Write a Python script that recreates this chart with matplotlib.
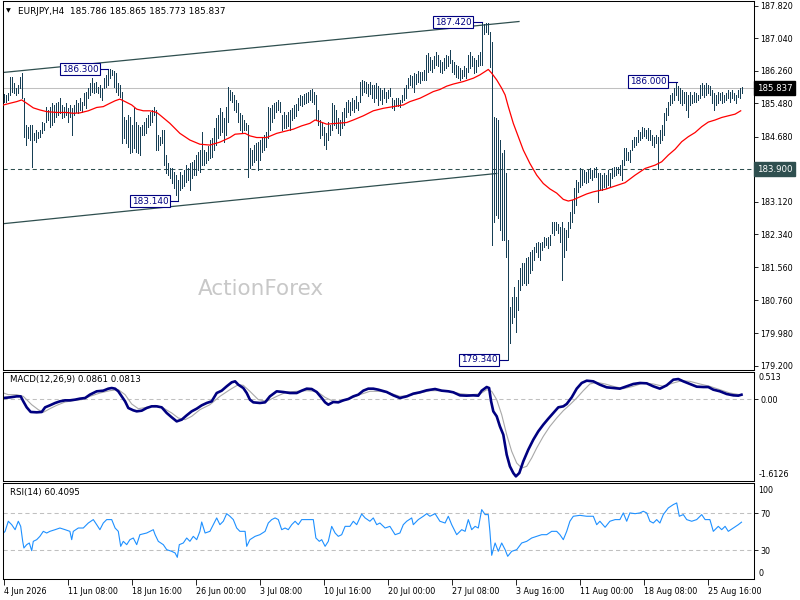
import matplotlib
matplotlib.use("Agg")
import matplotlib.pyplot as plt
import matplotlib.transforms as mtransforms

plt.rcParams['font.family'] = 'DejaVu Sans'

symbol = "EURJPY,H4"
last_ohlc = [185.786, 185.865, 185.773, 185.837]

# H4 bars, high / low
highs = [
    185.70, 185.68, 185.73, 186.11, 186.11, 185.97, 185.85, 185.92, 186.11, 186.21,
    185.61, 184.96, 184.91, 184.96, 184.96, 184.77, 184.84, 184.79, 184.84, 185.03,
    185.01, 185.39, 185.32, 185.39, 185.49, 185.44, 185.49, 185.51, 185.61, 185.44,
    185.39, 185.49, 185.37, 185.44, 185.37, 185.44, 185.56, 185.49, 185.61, 185.51,
    185.73, 185.75, 185.85, 185.97, 186.08, 185.97, 185.99, 185.87, 185.92, 185.85,
    186.08, 186.16, 186.28, 186.30, 186.27, 186.25, 186.21, 185.97, 185.92, 185.75,
    185.15, 185.08, 185.20, 185.15, 184.96, 185.37, 185.03, 184.96, 184.91, 184.96,
    185.03, 185.13, 185.20, 185.27, 185.32, 185.39, 185.32, 184.72, 184.67, 184.84,
    184.84, 184.24, 184.05, 183.93, 183.93, 183.84, 183.76, 183.64, 183.84, 183.76,
    183.88, 184.00, 183.93, 184.05, 184.07, 184.12, 184.24, 184.31, 184.36, 184.79,
    184.36, 184.31, 184.46, 184.60, 184.65, 184.89, 185.13, 185.20, 185.37, 185.27,
    185.13, 185.39, 185.87, 185.80, 185.75, 185.68, 185.56, 185.49, 185.25, 185.20,
    185.08, 185.01, 184.96, 184.41, 184.36, 184.48, 184.53, 184.55, 184.60, 184.65,
    184.72, 184.79, 185.39, 185.37, 185.44, 185.49, 185.51, 185.56, 185.51, 185.20,
    185.27, 185.20, 185.27, 185.32, 185.37, 185.44, 185.46, 185.61, 185.68, 185.65,
    185.70, 185.73, 185.75, 185.80, 185.82, 185.75, 185.68, 185.32, 185.08, 185.03,
    184.91, 184.77, 185.03, 184.96, 185.49, 185.44, 185.32, 185.13, 185.08, 185.27,
    185.37, 185.51, 185.56, 185.51, 185.61, 185.56, 185.65, 185.51, 185.99, 186.04,
    186.01, 185.99, 185.94, 185.99, 185.92, 185.92, 185.97, 185.89, 185.85, 185.80,
    185.85, 185.75, 185.80, 185.85, 185.61, 185.56, 185.61, 185.61, 185.56, 185.68,
    185.85, 185.92, 186.08, 186.16, 186.13, 186.21, 186.18, 186.25, 186.23, 186.23,
    186.28, 186.64, 186.68, 186.59, 186.52, 186.61, 186.71, 186.64, 186.52, 186.47,
    186.56, 186.64, 186.61, 186.76, 186.52, 186.47, 186.40, 186.37, 186.33, 186.28,
    186.37, 186.33, 186.64, 186.71, 186.61, 186.56, 186.52, 186.64, 186.71, 187.42,
    187.38, 187.40, 187.40, 187.19, 186.95, 185.15, 185.13, 185.08, 184.60, 184.29,
    184.36, 183.81, 182.21, 180.60, 180.84, 181.08, 180.84, 181.25, 181.54, 181.66,
    181.66, 181.78, 181.80, 181.92, 181.97, 182.04, 182.14, 182.16, 182.14, 182.16,
    182.28, 182.26, 182.28, 182.33, 182.64, 182.64, 182.64, 182.59, 182.52, 182.64,
    182.50, 182.45, 182.64, 182.88, 183.17, 183.45, 183.64, 183.60, 183.93, 183.88,
    183.88, 183.84, 183.88, 183.93, 183.88, 183.93, 183.96, 183.81, 183.81, 183.76,
    183.81, 183.76, 183.88, 183.81, 183.93, 183.96, 183.96, 183.96, 184.00, 184.12,
    184.41, 184.41, 184.31, 184.36, 184.60, 184.67, 184.67, 184.84, 184.79, 184.91,
    184.89, 184.84, 184.89, 184.84, 184.72, 184.67, 184.72, 184.67, 184.84, 184.96,
    185.25, 185.37, 185.51, 185.68, 185.73, 185.85, 186.00, 185.89, 185.85, 185.80,
    185.75, 185.75, 185.68, 185.75, 185.68, 185.75, 185.73, 185.68, 185.92, 185.97,
    185.92, 185.97, 185.92, 185.89, 185.80, 185.73, 185.68, 185.75, 185.73, 185.75,
    185.68, 185.73, 185.80, 185.75, 185.80, 185.73, 185.68, 185.80, 185.85, 185.87,
]
lows = [
    185.51, 185.51, 185.56, 185.68, 185.75, 185.73, 185.68, 185.73, 185.85, 185.61,
    184.67, 184.48, 184.65, 184.60, 183.96, 184.60, 184.55, 184.65, 184.67, 184.77,
    184.84, 185.03, 185.08, 184.91, 184.96, 185.03, 185.15, 185.20, 185.25, 185.13,
    185.15, 185.20, 185.03, 185.15, 184.72, 185.20, 185.27, 185.25, 185.32, 185.27,
    185.44, 185.37, 185.61, 185.68, 185.75, 185.73, 185.75, 185.73, 185.63, 185.56,
    185.85, 185.87, 185.92, 186.08, 186.16, 185.87, 185.75, 185.68, 185.63, 184.53,
    184.65, 184.53, 184.43, 184.29, 184.31, 184.41, 184.31, 184.29, 184.24, 184.72,
    184.72, 184.77, 184.91, 184.96, 185.03, 185.20, 184.36, 184.36, 184.48, 184.53,
    184.00, 183.81, 183.76, 183.69, 183.57, 183.45, 183.29, 183.14, 183.40, 183.45,
    183.50, 183.60, 183.64, 183.40, 183.69, 183.76, 183.76, 183.88, 183.84, 184.00,
    184.00, 184.05, 184.12, 184.17, 184.19, 184.36, 184.48, 184.65, 184.72, 184.79,
    184.55, 184.72, 185.03, 185.56, 185.51, 185.32, 185.27, 185.03, 184.84, 184.79,
    184.84, 184.84, 183.72, 183.93, 184.00, 184.07, 184.12, 183.88, 184.12, 184.31,
    184.36, 184.43, 184.65, 184.84, 185.03, 185.13, 185.27, 185.32, 185.27, 184.84,
    184.89, 184.89, 184.94, 184.84, 185.08, 185.13, 185.18, 185.32, 185.44, 185.41,
    185.46, 185.49, 185.51, 185.56, 185.51, 185.46, 185.08, 184.96, 184.65, 184.72,
    184.48, 184.39, 184.60, 184.72, 184.84, 184.96, 184.89, 184.77, 184.72, 184.89,
    184.96, 185.15, 185.27, 185.20, 185.32, 185.27, 185.37, 185.32, 185.51, 185.68,
    185.75, 185.73, 185.65, 185.70, 185.61, 185.51, 185.61, 185.44, 185.56, 185.46,
    185.61, 185.51, 185.61, 185.65, 185.37, 185.32, 185.41, 185.41, 185.39, 185.51,
    185.56, 185.61, 185.85, 185.92, 185.87, 185.75, 185.94, 185.99, 185.97, 186.04,
    186.04, 186.04, 186.23, 186.28, 186.23, 186.33, 186.40, 186.37, 186.23, 186.21,
    186.28, 186.33, 186.37, 186.44, 186.23, 186.18, 186.11, 186.08, 186.04, 186.08,
    186.13, 186.08, 186.23, 186.33, 186.37, 186.21, 186.23, 186.37, 186.40, 186.40,
    187.14, 187.19, 187.14, 186.35, 182.09, 182.64, 182.81, 182.73, 182.45, 182.21,
    182.21, 181.80, 179.34, 179.74, 180.22, 180.36, 180.01, 180.53, 181.01, 181.13,
    181.18, 181.13, 181.18, 181.42, 181.49, 181.73, 181.92, 181.80, 181.73, 181.97,
    182.04, 182.09, 182.02, 182.09, 182.38, 182.33, 182.45, 182.38, 182.16, 181.25,
    181.80, 181.97, 182.28, 182.50, 182.64, 182.85, 183.05, 183.36, 183.48, 183.52,
    183.60, 183.57, 183.60, 183.69, 183.64, 183.72, 183.72, 183.12, 183.40, 183.40,
    183.48, 183.45, 183.52, 183.48, 183.69, 183.74, 183.76, 183.81, 183.76, 183.64,
    184.00, 184.12, 184.12, 184.07, 184.36, 184.43, 184.48, 184.55, 184.60, 184.65,
    184.70, 184.65, 184.60, 184.60, 184.48, 184.43, 184.53, 183.91, 184.53, 184.60,
    184.72, 185.08, 185.20, 185.44, 185.49, 185.56, 185.68, 185.56, 185.49, 185.44,
    185.49, 185.32, 185.15, 185.44, 185.49, 185.51, 185.51, 185.56, 185.61, 185.68,
    185.63, 185.68, 185.73, 185.68, 185.49, 185.32, 185.44, 185.49, 185.56, 185.49,
    185.51, 185.56, 185.61, 185.51, 185.61, 185.56, 185.49, 185.63, 185.61, 185.73,
]

# moving average (bar index, value)
ma_pts = [
    (0, 185.44), (3.2, 185.48), (6.6, 185.52), (9.1, 185.56), (11.6, 185.48), (14.9, 185.37),
    (18.2, 185.32), (21.6, 185.28), (26.6, 185.26), (31.6, 185.26), (34.9, 185.24), (38.2, 185.25),
    (42.4, 185.30), (46.6, 185.38), (49.9, 185.40), (53.2, 185.48), (55.8, 185.54), (58.2, 185.58),
    (60.8, 185.52), (64.1, 185.44), (66.6, 185.34), (69.9, 185.30), (73.2, 185.30), (76.6, 185.26),
    (78.2, 185.20), (83.2, 185.00), (88.2, 184.76), (93.2, 184.60), (98.2, 184.50), (103.2, 184.48),
    (108.2, 184.55), (113.2, 184.66), (115.8, 184.74), (120.8, 184.76), (123.2, 184.70), (126.6, 184.66),
    (131.6, 184.66), (136.6, 184.76), (139.9, 184.80), (144.9, 184.86), (149.1, 184.94), (153.2, 185.00),
    (155.8, 185.08), (158.2, 185.04), (161.6, 184.98), (166.6, 185.00), (171.6, 185.02), (174.9, 185.08),
    (179.9, 185.18), (184.9, 185.30), (189.9, 185.36), (194.9, 185.40), (199.9, 185.44), (203.2, 185.52),
    (208.2, 185.60), (211.6, 185.68), (214.9, 185.76), (218.2, 185.81), (221.6, 185.89), (224.9, 185.94),
    (229.9, 186.00), (234.9, 186.08), (238.2, 186.16), (240.8, 186.24), (242.4, 186.29), (244.1, 186.20),
    (246.6, 186.04), (249.1, 185.84), (250.8, 185.68), (252.4, 185.40), (254.9, 185.00), (257.4, 184.68),
    (259.9, 184.36), (263.2, 184.04), (266.6, 183.76), (269.9, 183.56), (273.2, 183.43), (276.6, 183.33),
    (279.9, 183.18), (282.4, 183.14), (284.9, 183.17), (288.2, 183.24), (291.6, 183.31), (294.9, 183.36),
    (300.8, 183.42), (305.8, 183.50), (310.8, 183.58), (315.8, 183.76), (320.8, 183.92), (325.8, 184.00),
    (329.1, 184.08), (332.4, 184.24), (335.8, 184.38), (339.1, 184.56), (342.4, 184.68), (345.8, 184.78),
    (349.1, 184.92), (352.4, 185.03), (355.8, 185.08), (359.1, 185.14), (362.4, 185.18), (365.8, 185.22),
    (368.6, 185.30),
]

macd_pts = [
    (0, 0.02), (3.2, 0.033), (6.6, 0.053), (8.6, 0.053), (9.9, -0.047), (11.6, -0.167), (13.6, -0.26),
    (16.6, -0.267), (19.1, -0.26), (20.8, -0.167), (23.2, -0.127), (25.8, -0.08), (28.2, -0.047),
    (30.8, -0.027), (33.2, -0.027), (35.8, -0.013), (38.2, 0.007), (40.8, 0.02), (43.2, 0.087),
    (46.6, 0.154), (49.9, 0.167), (52.4, 0.207), (54.1, 0.22), (55.8, 0.207), (57.4, 0.154),
    (59.1, 0.053), (60.8, -0.047), (62.4, -0.18), (64.9, -0.227), (66.6, -0.247), (69.1, -0.234),
    (71.6, -0.18), (74.1, -0.147), (76.6, -0.147), (79.1, -0.167), (81.6, -0.28), (84.1, -0.367),
    (86.6, -0.448), (89.1, -0.414), (91.6, -0.327), (94.1, -0.247), (96.6, -0.194), (99.1, -0.127),
    (101.6, -0.08), (104.1, -0.047), (106.6, 0.12), (109.1, 0.167), (111.6, 0.254), (114.1, 0.334),
    (115.8, 0.354), (117.4, 0.287), (119.9, 0.22), (121.6, 0.12), (123.2, -0.013), (124.9, -0.067),
    (128.2, -0.08), (130.8, -0.067), (133.2, 0.053), (136.6, 0.154), (139.9, 0.14), (143.2, 0.12),
    (146.6, 0.12), (149.1, 0.167), (151.6, 0.207), (154.1, 0.2), (156.6, 0.14), (159.1, 0.02),
    (160.8, -0.067), (162.4, -0.114), (164.9, -0.06), (167.4, -0.067), (169.9, -0.027), (172.4, 0.0),
    (174.9, 0.053), (177.4, 0.087), (179.9, 0.167), (182.4, 0.207), (184.9, 0.207), (187.4, 0.187),
    (191.6, 0.14), (194.9, 0.073), (198.2, 0.02), (201.6, 0.053), (204.9, 0.107), (208.2, 0.134),
    (211.6, 0.174), (215.8, 0.2), (219.1, 0.167), (222.4, 0.154), (224.9, 0.134), (228.2, 0.073),
    (231.6, 0.067), (234.9, 0.073), (237.4, 0.067), (239.1, 0.167), (241.6, 0.24), (242.8, 0.22),
    (243.8, -0.047), (244.9, -0.247), (246.6, -0.347), (248.2, -0.548), (249.9, -0.715), (251.6, -1.116),
    (253.2, -1.349), (254.9, -1.483), (256.2, -1.55), (257.9, -1.483), (259.9, -1.249), (262.4, -1.015),
    (264.9, -0.815), (267.4, -0.648), (269.9, -0.514), (272.4, -0.394), (274.9, -0.28), (277.4, -0.167),
    (279.9, -0.147), (281.6, -0.1), (284.1, 0.033), (286.6, 0.207), (289.1, 0.321), (291.6, 0.367),
    (294.9, 0.354), (298.2, 0.287), (301.6, 0.234), (304.9, 0.22), (308.2, 0.207), (311.6, 0.254),
    (314.9, 0.301), (318.2, 0.321), (321.6, 0.314), (324.9, 0.254), (328.2, 0.207), (331.6, 0.274),
    (334.9, 0.387), (337.4, 0.4), (339.9, 0.354), (343.2, 0.301), (346.6, 0.247), (349.9, 0.24),
    (352.4, 0.24), (354.9, 0.187), (358.2, 0.154), (361.6, 0.1), (364.9, 0.073), (367.4, 0.067),
    (369, 0.086),
]

signal_pts = [
    (0, 0.12), (2.4, 0.087), (6.6, 0.087), (9.9, 0.053), (14.1, -0.114), (17.4, -0.214), (19.9, -0.267),
    (23.2, -0.194), (26.6, -0.127), (30.8, -0.06), (34.9, -0.033), (39.1, -0.013), (43.2, 0.053),
    (48.2, 0.12), (53.2, 0.167), (57.4, 0.187), (60.8, 0.087), (64.1, -0.1), (67.4, -0.194),
    (71.6, -0.167), (75.8, -0.127), (79.9, -0.18), (84.1, -0.28), (87.4, -0.381), (90.8, -0.414),
    (94.1, -0.347), (98.2, -0.214), (103.2, -0.114), (108.2, 0.053), (113.2, 0.187), (117.4, 0.287),
    (119.9, 0.274), (123.2, 0.154), (127.4, -0.013), (131.6, -0.047), (136.6, 0.053), (141.6, 0.14),
    (146.6, 0.154), (151.6, 0.167), (156.6, 0.154), (160.8, 0.033), (164.9, -0.047), (169.1, -0.047),
    (173.2, 0.007), (178.2, 0.087), (183.2, 0.154), (188.2, 0.154), (193.2, 0.12), (198.2, 0.053),
    (203.2, 0.073), (208.2, 0.12), (213.2, 0.167), (218.2, 0.167), (223.2, 0.154), (228.2, 0.107),
    (233.2, 0.087), (238.2, 0.1), (241.6, 0.187), (244.1, 0.154), (246.6, -0.013), (249.1, -0.314),
    (251.6, -0.715), (254.1, -1.049), (256.6, -1.283), (259.1, -1.383), (261.6, -1.349), (264.1, -1.182),
    (266.6, -0.982), (269.9, -0.748), (273.2, -0.548), (276.6, -0.381), (279.9, -0.234), (283.2, -0.114),
    (286.6, 0.02), (289.9, 0.167), (293.2, 0.301), (296.6, 0.334), (300.8, 0.301), (304.9, 0.254),
    (309.9, 0.207), (314.9, 0.254), (319.9, 0.321), (324.9, 0.301), (329.9, 0.254), (334.9, 0.321),
    (339.1, 0.367), (343.2, 0.354), (348.2, 0.301), (353.2, 0.254), (358.2, 0.187), (363.2, 0.12),
    (369, 0.081),
]

rsi_pts = [
    (0, 48.7), (0.8, 50.5), (2.4, 61.4), (4.1, 57.7), (5.8, 52.3), (7.4, 61.4), (8.6, 55.9), (9.6, 39.7),
    (10.2, 32.5), (11.6, 36.1), (12.9, 37.9), (14.1, 29.6), (14.9, 39.7), (16.6, 41.5), (18.2, 45.1),
    (19.9, 50.5), (21.6, 48.7), (23.2, 50.5), (25.8, 52.3), (28.2, 54.1), (30.8, 52.3), (33.2, 50.5),
    (34.1, 41.5), (34.9, 50.5), (37.4, 54.1), (39.9, 54.1), (42.4, 59.5), (44.9, 63.2), (46.6, 57.7),
    (48.2, 52.3), (49.9, 59.5), (51.6, 63.2), (54.1, 63.2), (55.8, 54.1), (57.4, 50.5), (58.6, 34.3),
    (59.9, 39.7), (61.6, 36.1), (63.2, 41.5), (64.9, 43.3), (66.6, 36.1), (68.2, 46.9), (71.6, 48.7),
    (74.9, 52.3), (75.8, 46.9), (77.4, 39.7), (79.9, 36.1), (81.6, 30.7), (84.1, 28.9), (85.8, 27.1),
    (86.9, 22.4), (87.9, 36.1), (89.9, 37.9), (91.6, 43.3), (93.2, 39.7), (94.9, 45.1), (96.6, 41.5),
    (98.2, 50.5), (99.1, 60.6), (100.8, 48.7), (103.2, 50.5), (104.9, 57.7), (106.6, 65.0), (108.2, 57.7),
    (109.9, 61.4), (111.6, 69.6), (113.2, 66.8), (114.9, 63.2), (116.6, 54.1), (118.2, 50.5), (120.8, 50.5),
    (121.6, 34.3), (123.2, 41.5), (125.8, 45.1), (128.2, 46.9), (130.8, 50.5), (132.4, 59.5), (134.1, 63.2),
    (135.8, 65.0), (137.4, 63.2), (139.1, 52.3), (140.8, 54.1), (142.4, 52.3), (144.1, 57.7), (145.8, 61.4),
    (147.4, 57.7), (149.1, 63.2), (151.6, 63.2), (154.9, 63.2), (156.2, 43.3), (157.9, 39.7), (159.1, 41.5),
    (160.8, 34.3), (162.4, 39.7), (164.1, 55.9), (165.8, 48.7), (167.4, 45.1), (169.1, 46.9), (170.8, 55.9),
    (173.2, 55.9), (174.9, 61.4), (176.6, 57.7), (179.1, 69.3), (180.8, 65.0), (183.2, 61.4), (184.9, 65.0),
    (186.6, 57.7), (188.2, 59.5), (190.8, 54.1), (193.2, 55.9), (195.8, 46.9), (198.2, 48.7), (199.9, 57.7),
    (201.6, 61.4), (204.1, 65.0), (204.9, 57.7), (207.4, 63.2), (209.9, 66.8), (211.6, 69.6), (213.2, 66.8),
    (215.8, 69.6), (218.2, 61.4), (220.8, 59.5), (222.4, 66.8), (224.1, 57.7), (226.6, 46.9), (229.1, 52.3),
    (230.8, 50.5), (232.4, 63.2), (234.1, 52.3), (235.8, 55.9), (237.4, 54.1), (239.1, 74.0), (240.8, 68.6),
    (242.4, 68.6), (243.2, 50.5), (244.1, 24.6), (245.8, 37.9), (247.4, 28.9), (249.1, 37.9), (250.8, 30.7),
    (252.1, 23.5), (254.1, 28.9), (256.6, 30.7), (259.1, 37.9), (261.6, 39.7), (264.1, 43.3), (266.6, 45.1),
    (269.1, 46.9), (271.6, 46.9), (274.1, 50.5), (276.6, 50.5), (278.2, 46.9), (279.9, 41.5), (281.6, 50.5),
    (283.2, 61.4), (284.9, 66.8), (288.2, 67.8), (291.6, 66.8), (294.9, 66.8), (296.6, 57.7), (298.2, 61.4),
    (300.8, 54.9), (303.2, 61.4), (305.8, 63.2), (308.2, 63.2), (309.9, 70.4), (311.6, 61.4), (313.2, 70.4),
    (315.8, 69.6), (318.2, 70.4), (319.9, 72.2), (321.6, 70.4), (323.2, 61.4), (324.9, 59.5), (326.6, 63.2),
    (328.2, 59.5), (329.9, 68.6), (332.4, 75.8), (334.9, 79.4), (336.6, 81.2), (337.9, 66.8), (339.9, 68.6),
    (341.6, 63.2), (344.1, 61.4), (346.6, 63.2), (349.1, 68.6), (350.8, 63.2), (353.2, 63.2), (354.9, 50.5),
    (357.4, 55.9), (359.1, 52.3), (360.8, 55.9), (362.4, 50.5), (364.9, 54.1), (367.4, 57.7), (369, 60.4),
]

price_ticks = [187.82, 187.04, 186.26, 185.48, 184.68, 183.90, 183.12, 182.34, 181.56, 180.76, 179.98, 179.20]
date_pos = [0, 32, 64, 96, 128, 160, 192, 224, 256, 288, 320, 352]
date_labels = ["4 Jun 2026", "11 Jun 08:00", "18 Jun 16:00", "26 Jun 00:00", "3 Jul 08:00",
               "10 Jul 16:00", "20 Jul 00:00", "27 Jul 08:00", "3 Aug 16:00", "11 Aug 00:00",
               "18 Aug 08:00", "25 Aug 16:00"]
support = 183.900
# swing marks: bar index, price
swings = [(52.4, 186.300), (87.4, 183.140), (239.1, 187.420), (251.9, 179.340), (336.6, 186.000)]
# channel lines: (bar index, price) end points
upper_channel = [(-1.75, 186.21), (257.75, 187.437)]
lower_channel = [(-1.75, 182.59), (246.6, 183.80)]
macd_name, macd_last, signal_last = "MACD(12,26,9)", 0.0861, 0.0813
macd_max, macd_min = 0.513, -1.6126
rsi_name, rsi_last = "RSI(14)", 60.4095

BAR_C = '#173F55'
SLATE = '#2F4F4F'
FS = 5.8

fig = plt.figure(figsize=(8, 6), dpi=100)
W, H = 800.0, 600.0


def panel(top, bottom):
    return fig.add_axes([3 / W, 1 - bottom / H, 751 / W, (bottom - top) / H])


ax1 = panel(1, 370)
ax2 = panel(372, 480.7)
ax3 = panel(483, 578.7)

for ax in (ax1, ax2, ax3):
    ax.set_xlim(-0.25, 375.25)
    for s in ax.spines.values():
        s.set_color('black')
        s.set_linewidth(0.75)
    ax.yaxis.tick_right()
    ax.tick_params(axis='y', length=3, width=0.6, pad=1.5, labelsize=FS, colors='black')
    ax.tick_params(axis='x', bottom=False, labelbottom=False)

# ---- price panel
ax1.set_ylim(179.096, 187.928)
n = len(highs)
ax1.axhline(last_ohlc[3], color='#C0C0C0', lw=0.75, zorder=1)
ax1.axhline(support, color=SLATE, lw=0.75, ls=(0, (4, 3)), zorder=1)
ax1.plot([p[0] for p in upper_channel], [p[1] for p in upper_channel], color=SLATE, lw=0.9, zorder=2)
ax1.plot([p[0] for p in lower_channel], [p[1] for p in lower_channel], color=SLATE, lw=0.9, zorder=2)
ax1.vlines(range(n), lows, highs, colors=BAR_C, lw=0.68, antialiased=False, zorder=3)
ax1.plot([p[0] for p in ma_pts], [p[1] for p in ma_pts], color='#FF0000', lw=0.9, zorder=4)

ax1.set_yticks(price_ticks)
# the support level carries its own boxed label
ax1.set_yticklabels(["" if abs(t - support) < 1e-6 else f"{t:.3f}" for t in price_ticks])

for bi, val in swings:
    ax1.plot([bi - 5, bi], [val, val], color='#000080', lw=0.8, zorder=5)
    ax1.text(bi - 5, val, f"{val:.3f}", ha='right', va='center', fontsize=6.4, color='#000080', zorder=6,
             bbox=dict(boxstyle='square,pad=0.18', fc='white', ec='#000080', lw=0.8))

tr1 = mtransforms.blended_transform_factory(ax1.transAxes, ax1.transData)
ax1.text(1 + 3 / 751, last_ohlc[3], f"{last_ohlc[3]:.3f}", transform=tr1, ha='left', va='center',
         fontsize=6.2, color='white', clip_on=False, zorder=7,
         bbox=dict(boxstyle='square,pad=0.3', fc='black', ec='black'))
ax1.text(1 + 3 / 751, support, f"{support:.3f}", transform=tr1, ha='left', va='center',
         fontsize=6.2, color='white', clip_on=False, zorder=7,
         bbox=dict(boxstyle='square,pad=0.3', fc=SLATE, ec=SLATE))

fig.text(6 / W, 1 - 11 / H, "\u25BC", fontsize=4.5, va='center', ha='left')
fig.text(18 / W, 1 - 11 / H, symbol + "  " + " ".join(f"{v:.3f}" for v in last_ohlc),
         fontsize=6.4, va='center', ha='left')
fig.text(261 / W, 1 - 289 / H, "ActionForex", fontsize=15.5, color='#C8C8C8', ha='center', va='center')

# ---- MACD panel
ax2.set_ylim(-1.637, 0.541)
ax2.axhline(0, color='#C0C0C0', lw=0.75, ls=(0, (4, 3)))
ax2.plot([p[0] for p in signal_pts], [p[1] for p in signal_pts], color='#A8A8A8', lw=0.8)
ax2.plot([p[0] for p in macd_pts], [p[1] for p in macd_pts], color='#000080', lw=1.9)
ax2.set_yticks([0])
ax2.set_yticklabels(["0.00"])
tr2 = mtransforms.blended_transform_factory(ax2.transAxes, ax2.transData)
ax2.text(1 + 4.5 / 751, macd_max, f"{macd_max}", transform=tr2, fontsize=FS, va='top', ha='left')
ax2.text(1 + 4.5 / 751, macd_min, f"{macd_min}", transform=tr2, fontsize=FS, va='bottom', ha='left')
ax2.text(7 / 751, 0.93, f"{macd_name} {macd_last} {signal_last}", transform=ax2.transAxes,
         fontsize=6.2, va='center', ha='left')

# ---- RSI panel
ax3.set_ylim(-0.7, 102.76)
ax3.axhline(70, color='#C0C0C0', lw=0.75, ls=(0, (4, 3)))
ax3.axhline(30, color='#C0C0C0', lw=0.75, ls=(0, (4, 3)))
ax3.plot([p[0] for p in rsi_pts], [p[1] for p in rsi_pts], color='#1E90FF', lw=0.8)
ax3.set_yticks([70, 30])
ax3.set_yticklabels(["70", "30"])
tr3 = mtransforms.blended_transform_factory(ax3.transAxes, ax3.transData)
ax3.text(1 + 4.5 / 751, 100, "100", transform=tr3, fontsize=FS, va='top', ha='left')
ax3.text(1 + 4.5 / 751, 0, "0", transform=tr3, fontsize=FS, va='bottom', ha='left')
ax3.text(7 / 751, 0.9, f"{rsi_name} {rsi_last}", transform=ax3.transAxes,
         fontsize=6.2, va='center', ha='left')

ax3.tick_params(axis='x', bottom=True, labelbottom=True, length=4, width=0.6, pad=2, labelsize=FS)
ax3.set_xticks(date_pos)
ax3.set_xticklabels(date_labels)
for lbl in ax3.get_xticklabels():
    lbl.set_ha('left')

fig.savefig("out.png", dpi=100, facecolor='white')
